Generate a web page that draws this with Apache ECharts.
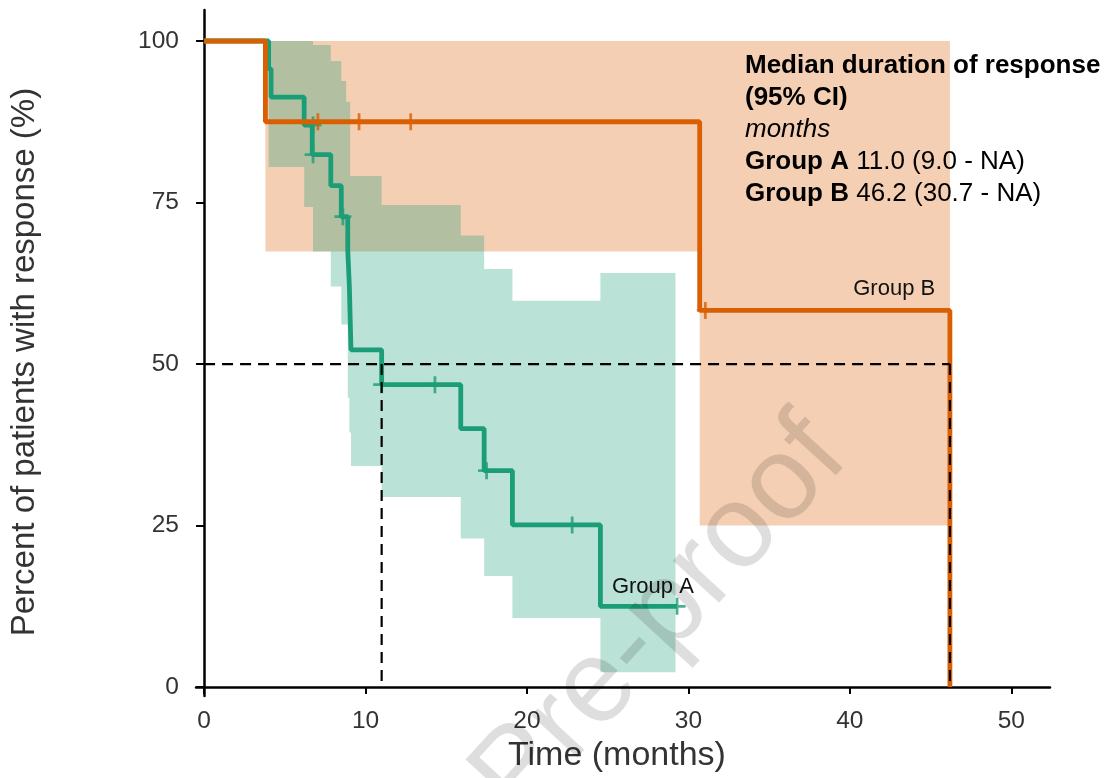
<!DOCTYPE html>
<html>
<head>
<meta charset="utf-8">
<script src="https://cdn.jsdelivr.net/npm/echarts@6/dist/echarts.min.js"></script>
<style>
  html, body { margin: 0; padding: 0; background: #fff; }
  #chart { width: 1109px; height: 778px; }
</style>
</head>
<body>
<div id="chart"></div>
<script>
// axis ticks
const xTicks = [0, 10, 20, 30, 40, 50];
const yTicks = [0, 25, 50, 75, 100];

// Kaplan-Meier curves (time in months, percent still responding)
const groupATime = [0, 4.0, 4.15, 6.2, 6.7, 7.85, 8.5, 8.9, 9.0, 9.1, 11.0, 15.9, 17.35, 19.1, 24.55, 29.3];
const groupASurv = [100, 95.7, 91.3, 87.0, 82.4, 77.6, 72.8, 67.7, 62.0, 52.2, 46.8, 40.0, 33.5, 25.1, 12.5, 12.5];
const groupBTime = [0, 3.8, 30.7, 46.2];
const groupBSurv = [100, 87.5, 58.3, 0];

// censored observations
const groupACensorTime = [6.75, 6.75, 8.6, 11.0, 14.3, 17.5, 22.8, 29.3];
const groupACensorSurv = [87.0, 82.4, 72.8, 46.8, 46.8, 33.5, 25.1, 12.5];
const groupBCensorTime = [7.05, 9.6, 12.8, 31.05];
const groupBCensorSurv = [87.5, 87.5, 87.5, 58.3];

// 95% CI bands: interval i runs from time[i] to time[i+1]
const bandATime = [4.0, 6.2, 6.75, 7.85, 8.5, 8.8, 8.9, 9.0, 9.05, 9.1, 11.0, 15.9, 17.35, 19.1, 24.55, 29.2];
const bandALower = [80.5, 74.3, 67.4, 62.0, 56.1, 56.1, 44.8, 39.4, 39.4, 34.2, 29.4, 23.0, 17.2, 10.7, 2.3];
const bandAUpper = [100, 100, 99.4, 96.9, 93.8, 90.6, 90.6, 90.6, 79.1, 79.1, 74.6, 69.9, 64.7, 59.8, 64.1];
const bandBTime = [3.8, 30.7, 46.2];
const bandBLower = [67.4, 25.0];
const bandBUpper = [100, 100];

// medians
const medianLevel = 50;
const medianA = 11.0;
const medianB = 46.2;

const GREEN = '#1b9e77';
const ORANGE = '#d95f02';
const FONT = '"Liberation Sans", Arial, sans-serif';

function pairs(xs, ys) {
  return xs.map((x, i) => [x, ys[i]]);
}

// step polygon for a confidence band
function bandRenderer(times, lower, upper, fill) {
  return function (params, api) {
    const top = [];
    const bottom = [];
    for (let i = 0; i < lower.length; i++) {
      top.push(api.coord([times[i], upper[i]]), api.coord([times[i + 1], upper[i]]));
      bottom.push(api.coord([times[i], lower[i]]), api.coord([times[i + 1], lower[i]]));
    }
    return {
      type: 'polygon',
      shape: { points: top.concat(bottom.reverse()) },
      style: { fill: fill }
    };
  };
}

const plus = 'path://M-1.3,-8L1.3,-8L1.3,-1.3L8,-1.3L8,1.3L1.3,1.3L1.3,8L-1.3,8L-1.3,1.3L-8,1.3L-8,-1.3L-1.3,-1.3Z';
const dashStyle = { color: '#000', width: 2.2, type: [11, 7] };

const chart = echarts.init(document.getElementById('chart'), null, { renderer: 'canvas' });

chart.setOption({
  animation: false,
  backgroundColor: '#fff',
  grid: { left: 193, right: 59, top: 10, bottom: 81 },
  xAxis: {
    type: 'value',
    min: -0.5,
    max: 52.4,
    name: 'Time (months)',
    nameLocation: 'middle',
    nameGap: 41,
    nameTextStyle: { fontFamily: FONT, fontSize: 34, color: '#333', padding: [0, 12, 0, 0] },
    axisLine: { onZero: true, lineStyle: { color: '#000', width: 2.5 } },
    axisTick: { customValues: xTicks, length: 7, lineStyle: { color: '#000', width: 2 } },
    axisLabel: { customValues: xTicks, margin: 13, fontFamily: FONT, fontSize: 24.5, color: '#333' },
    splitLine: { show: false }
  },
  yAxis: {
    type: 'value',
    min: -1.4,
    max: 104.8,
    name: 'Percent of patients with response (%)',
    nameLocation: 'middle',
    nameGap: 155,
    nameTextStyle: { fontFamily: FONT, fontSize: 33, color: '#333', padding: [0, 18, 0, 0] },
    axisLine: { onZero: true, lineStyle: { color: '#000', width: 2.5 } },
    axisTick: { customValues: yTicks, length: 8, lineStyle: { color: '#000', width: 2 } },
    axisLabel: { customValues: yTicks, margin: 17, fontFamily: FONT, fontSize: 24.5, color: '#333' },
    splitLine: { show: false }
  },
  series: [
    {
      type: 'custom',
      name: 'Group B CI',
      clip: true,
      data: [[bandBTime[0], bandBUpper[0]]],
      renderItem: bandRenderer(bandBTime, bandBLower, bandBUpper, 'rgba(217,95,2,0.3)'),
      z: 1
    },
    {
      type: 'custom',
      name: 'Group A CI',
      clip: true,
      data: [[bandATime[0], bandAUpper[0]]],
      renderItem: bandRenderer(bandATime, bandALower, bandAUpper, 'rgba(27,158,119,0.3)'),
      z: 2
    },
    {
      type: 'line',
      name: 'Group A',
      step: 'end',
      showSymbol: false,
      data: pairs(groupATime, groupASurv),
      lineStyle: { color: GREEN, width: 4.8 },
      z: 3,
      markPoint: {
        symbolSize: 0,
        data: [{ coord: [27.8, 15.5], value: 'Group A' }],
        label: { show: true, formatter: 'Group A', fontFamily: FONT, fontSize: 22, color: '#111' }
      }
    },
    {
      type: 'scatter',
      name: 'Group A censored',
      data: pairs(groupACensorTime, groupACensorSurv),
      symbol: plus,
      symbolSize: 17,
      itemStyle: { color: GREEN },
      z: 4
    },
    {
      type: 'line',
      name: 'Group B',
      step: 'end',
      showSymbol: false,
      data: pairs(groupBTime, groupBSurv),
      lineStyle: { color: ORANGE, width: 4.8 },
      z: 5,
      markPoint: {
        symbolSize: 0,
        data: [{ coord: [42.75, 61.6], value: 'Group B' }],
        label: { show: true, formatter: 'Group B', fontFamily: FONT, fontSize: 22, color: '#111' }
      }
    },
    {
      type: 'scatter',
      name: 'Group B censored',
      data: pairs(groupBCensorTime, groupBCensorSurv),
      symbol: plus,
      symbolSize: 17,
      itemStyle: { color: ORANGE },
      z: 6
    },
    {
      type: 'line',
      name: 'median',
      showSymbol: false,
      data: [[0, medianLevel], [medianB, medianLevel]],
      lineStyle: dashStyle,
      z: 7
    },
    {
      type: 'line',
      name: 'median A',
      showSymbol: false,
      data: [[medianA, medianLevel], [medianA, 0]],
      lineStyle: dashStyle,
      z: 7
    },
    {
      type: 'line',
      name: 'median B',
      showSymbol: false,
      data: [[medianB, medianLevel], [medianB, 0]],
      lineStyle: dashStyle,
      z: 7
    }
  ],
  graphic: [
    {
      type: 'text',
      left: 745,
      top: 50,
      z: 50,
      style: {
        text: [
          '{b|Median duration of response}',
          '{b|(95% CI)}',
          '{i|months}',
          '{b|Group A} 11.0 (9.0 - NA)',
          '{b|Group B} 46.2 (30.7 - NA)'
        ].join('\n'),
        font: '26px ' + FONT,
        fill: '#000',
        lineHeight: 32,
        rich: {
          b: { fontFamily: FONT, fontSize: 26, fontWeight: 'bold', lineHeight: 32, fill: '#000' },
          i: { fontFamily: FONT, fontSize: 26, fontStyle: 'italic', lineHeight: 32, fill: '#000' }
        }
      }
    },
    {
      type: 'text',
      x: 519,
      y: 773,
      rotation: 47.5 * Math.PI / 180,
      z: 100,
      silent: true,
      style: {
        text: 'Journal Pre-proof',
        font: '118px ' + FONT,
        fill: 'rgba(0,0,0,0.13)',
        align: 'center',
        verticalAlign: 'middle'
      }
    }
  ]
});
</script>
</body>
</html>
